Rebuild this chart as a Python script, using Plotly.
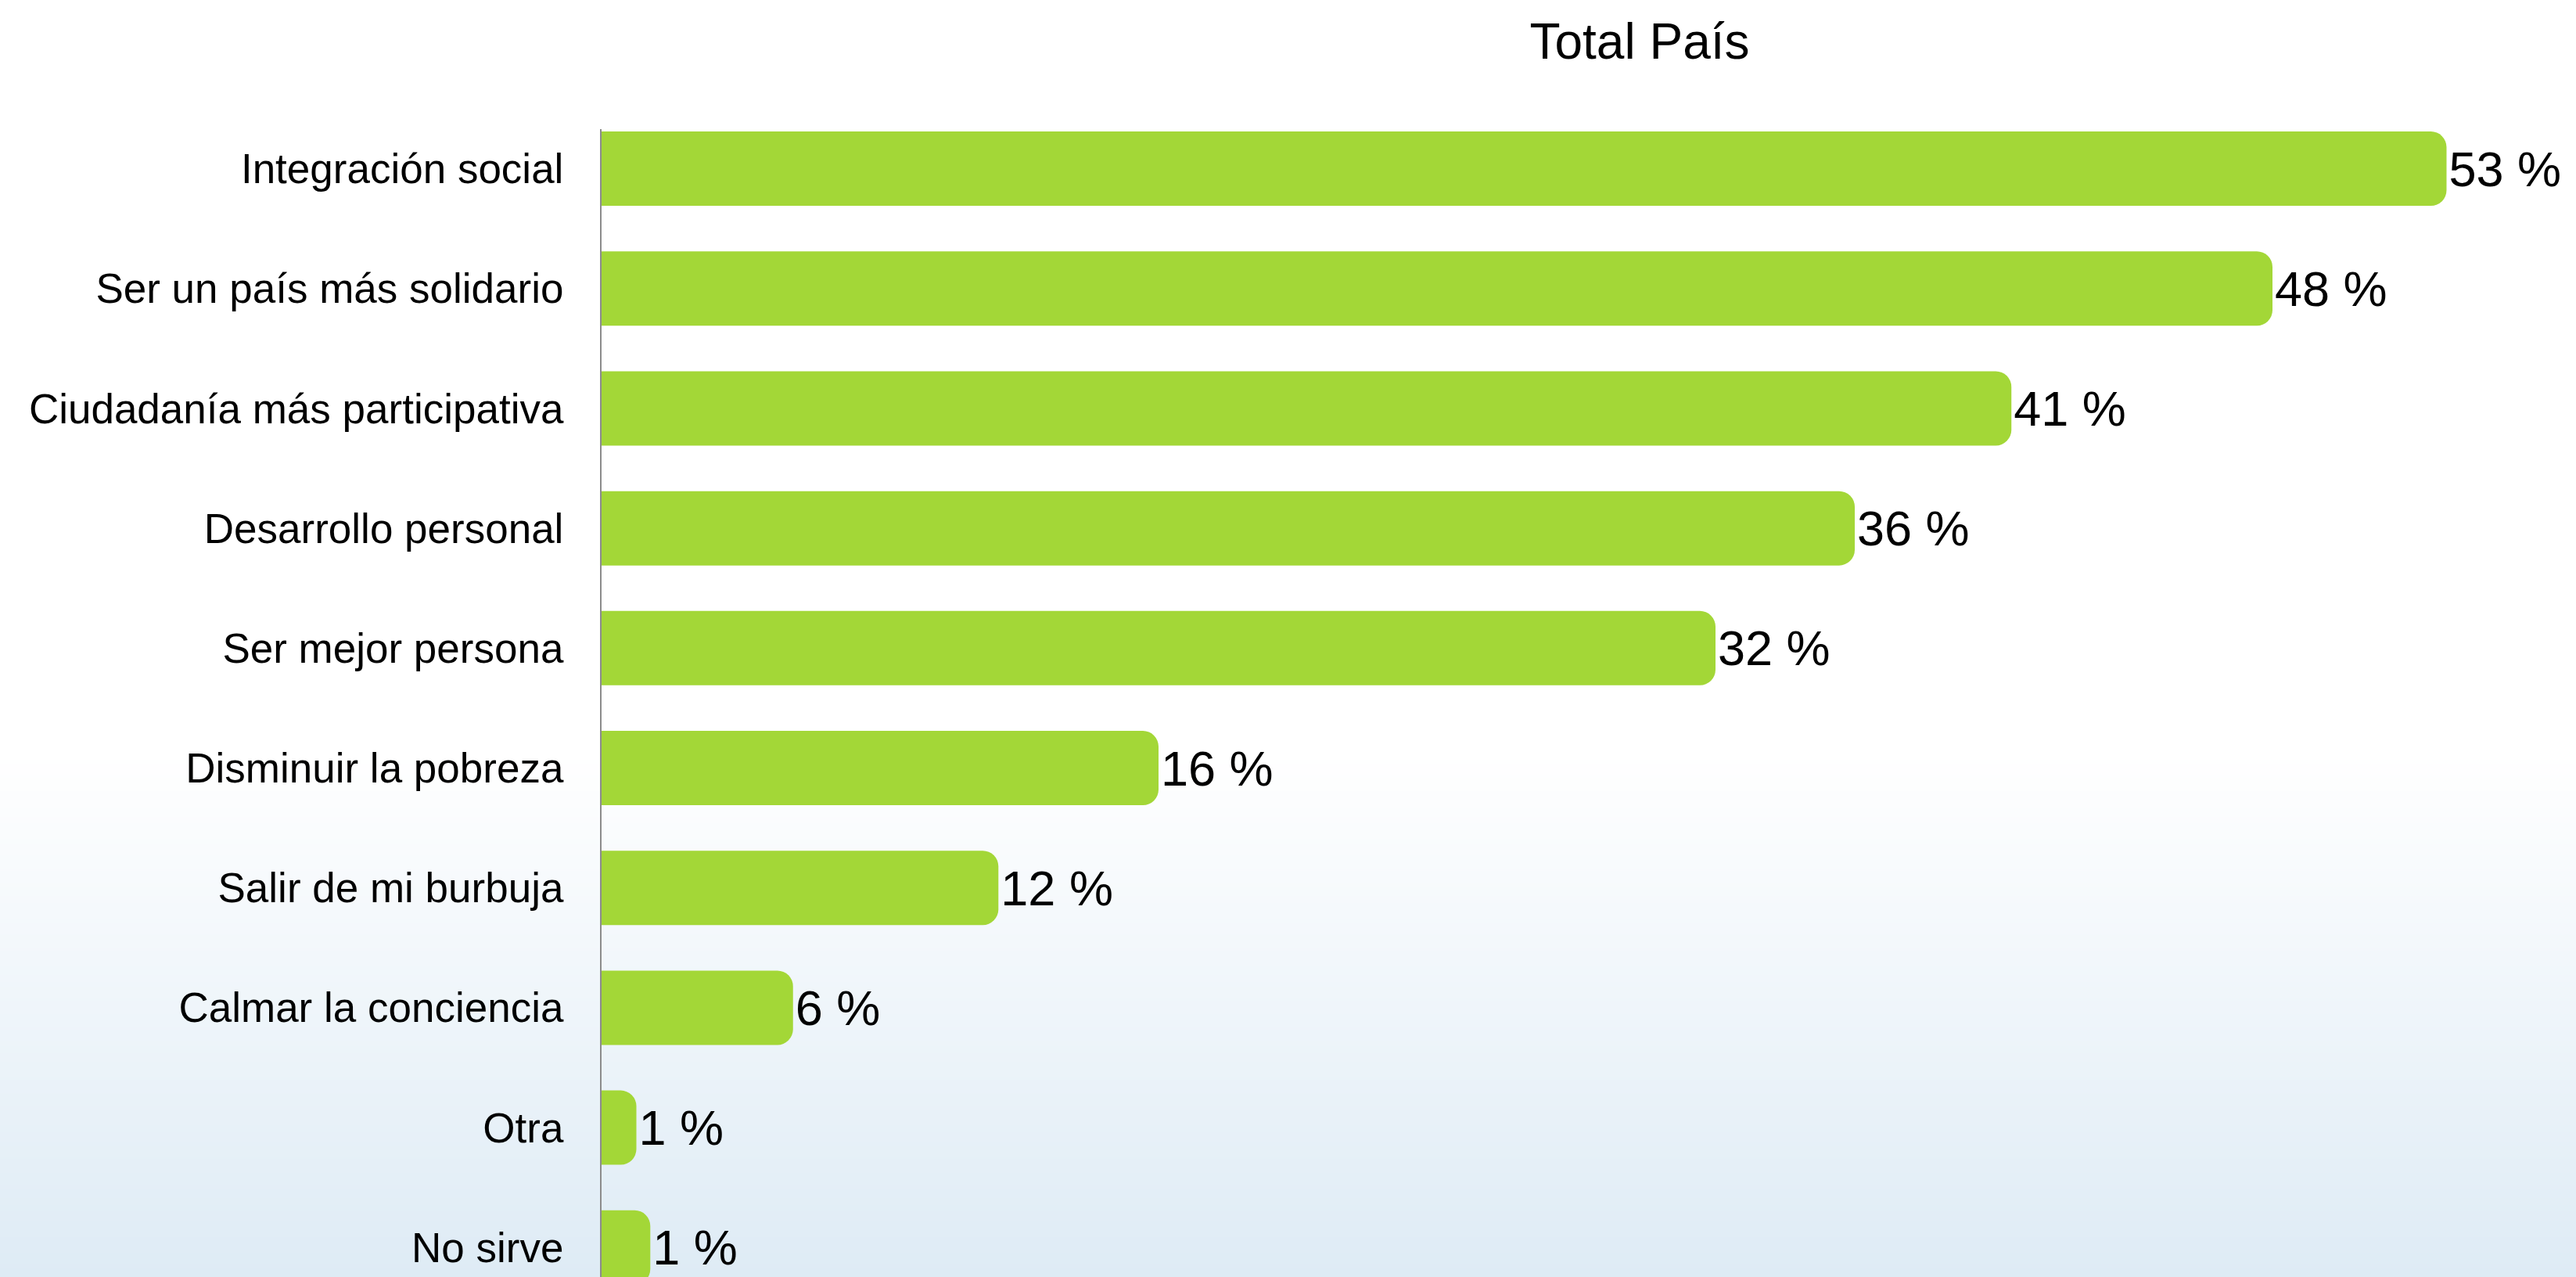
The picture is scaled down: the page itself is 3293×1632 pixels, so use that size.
import base64
import struct
import zlib

import plotly.graph_objects as go

categories = [
    "Integración social",
    "Ser un país más solidario",
    "Ciudadanía más participativa",
    "Desarrollo personal",
    "Ser mejor persona",
    "Disminuir la pobreza",
    "Salir de mi burbuja",
    "Calmar la conciencia",
    "Otra",
    "No sirve",
]
values = [53, 48, 40.5, 36, 32, 16, 11.4, 5.5, 1.0, 1.4]
value_labels = ["53 %", "48 %", "41 %", "36 %", "32 %", "16 %", "12 %", "6 %", "1 %", "1 %"]

W, H = 3293, 1632
LEFT, TOP = 769, 165


def gradient_png(height, start, top_rgb, bottom_rgb):
    # 1px wide vertical gradient, stretched over the page as a background
    rows = b""
    for i in range(height):
        t = 0.0 if i < start else (i - start) / (height - 1 - start)
        px = bytes(round(a + (b - a) * t) for a, b in zip(top_rgb, bottom_rgb))
        rows += b"\x00" + px

    def chunk(tag, data):
        c = struct.pack(">I", len(data)) + tag + data
        return c + struct.pack(">I", zlib.crc32(tag + data) & 0xFFFFFFFF)

    png = b"\x89PNG\r\n\x1a\n"
    png += chunk(b"IHDR", struct.pack(">IIBBBBB", 1, height, 8, 2, 0, 0, 0))
    png += chunk(b"IDAT", zlib.compress(rows))
    png += chunk(b"IEND", b"")
    return "data:image/png;base64," + base64.b64encode(png).decode()


fig = go.Figure(
    go.Bar(
        x=values,
        y=categories,
        orientation="h",
        text=value_labels,
        textposition="outside",
        constraintext="none",
        cliponaxis=False,
        textfont=dict(size=63, color="black"),
        marker=dict(color="#a3d737", cornerradius=20, line=dict(width=0)),
        hoverinfo="skip",
    )
)

plot_w = W - LEFT
plot_h = H - TOP

fig.add_layout_image(
    source=gradient_png(H, 960, (255, 255, 255), (222, 235, 245)),
    xref="paper",
    yref="paper",
    x=-LEFT / plot_w,
    y=1 + TOP / plot_h,
    sizex=W / plot_w,
    sizey=H / plot_h,
    sizing="stretch",
    xanchor="left",
    yanchor="top",
    layer="below",
)

fig.update_layout(
    width=W,
    height=H,
    margin=dict(l=LEFT, r=0, t=TOP, b=0, pad=0, autoexpand=False),
    paper_bgcolor="white",
    plot_bgcolor="rgba(0,0,0,0)",
    font=dict(family="Liberation Sans, Arial, sans-serif", color="black"),
    title=dict(
        text="Total País",
        font=dict(size=64),
        x=2096 / W,
        xanchor="center",
        xref="container",
        y=1 - 53 / H,
        yanchor="middle",
    ),
    bargap=0.38,
    showlegend=False,
)

fig.update_xaxes(
    range=[0, plot_w / 44.5],
    automargin=False,
    showgrid=False,
    zeroline=False,
    showticklabels=False,
    showline=False,
)

fig.update_yaxes(
    range=[(H - 215.5) / 153.2, -0.33],
    automargin=False,
    showgrid=False,
    zeroline=False,
    showline=True,
    linecolor="#8c8c8c",
    linewidth=2,
    ticks="",
    ticklabelstandoff=36,
    tickfont=dict(size=53),
)

# drop the page's default body margin so the figure sits at the window's corner
fig.write_html(
    "out.html",
    config={"displayModeBar": False},
    post_script="document.body.style.margin = '0';",
)
